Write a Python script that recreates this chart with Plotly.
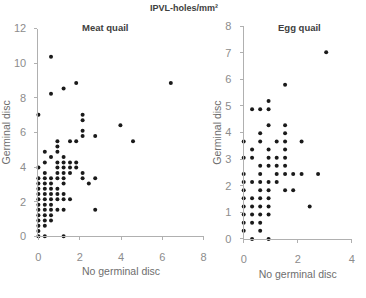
import plotly.graph_objects as go

# Meat quail: x = no germinal disc, y = germinal disc (IPVL holes/mm2)
meat_x = [0, 0.31, 1.22,
          0,
          0, 0.31,
          0, 0.31, 0.61,
          0, 0.31, 0.61,
          0, 0.31, 0.61, 0.92, 1.22, 2.75,
          0, 0.31, 0.61,
          0, 0.31, 0.61, 0.92, 1.22, 1.53,
          0, 0.31, 0.61, 0.92, 1.22,
          0, 0.31, 0.61, 0.92,
          0, 0.31, 0.61, 1.22, 2.44,
          0, 0.31, 0.61, 0.92, 1.22, 2.14, 2.75,
          0.31, 0.92, 1.22, 1.53, 2.14,
          0, 0.92, 1.22, 1.53, 1.83,
          0.31, 0.92, 1.22, 1.53, 1.83,
          0.61, 1.22,
          0.31, 0.92,
          0.92,
          0.92, 1.53, 1.83, 4.58,
          2.14, 2.75,
          2.14,
          3.97,
          2.14,
          0, 2.14,
          0.61,
          1.22,
          1.83, 6.41,
          0.61]
meat_y = [0, 0, 0,
          0.31,
          0.61, 0.61,
          0.92, 0.92, 0.92,
          1.22, 1.22, 1.22,
          1.53, 1.53, 1.53, 1.53, 1.53, 1.53,
          1.83, 1.83, 1.83,
          2.14, 2.14, 2.14, 2.14, 2.14, 2.14,
          2.44, 2.44, 2.44, 2.44, 2.44,
          2.75, 2.75, 2.75, 2.75,
          3.05, 3.05, 3.05, 3.05, 3.05,
          3.36, 3.36, 3.36, 3.36, 3.36, 3.36, 3.36,
          3.66, 3.66, 3.66, 3.66, 3.66,
          3.97, 3.97, 3.97, 3.97, 3.97,
          4.27, 4.27, 4.27, 4.27, 4.27,
          4.58, 4.58,
          4.88, 4.88,
          5.19,
          5.49, 5.49, 5.49, 5.49,
          5.8, 5.8,
          6.1,
          6.41,
          6.71,
          7.02, 7.02,
          8.24,
          8.54,
          8.85, 8.85,
          10.37]

# Egg quail
egg_x = [0.31, 0.92,
         0, 0.61,
         0, 0.31, 0.61,
         0, 0.31, 0.61, 0.92,
         0, 0.31, 0.61, 0.92, 2.44,
         0, 0.31, 0.61, 0.92,
         0, 0.61, 0.92, 1.53, 1.83,
         0, 0.31, 0.61, 0.92, 1.22,
         0, 0.61, 1.22, 1.53, 1.83, 2.14, 2.75,
         0.61, 0.92, 1.22, 1.53,
         0, 0.31, 0.92, 1.22, 1.53,
         0.31, 0.92, 1.53,
         0, 0.61, 1.22, 1.53, 2.14,
         0.61, 1.53,
         0.92, 1.53,
         0.31, 0.61, 0.92,
         0.92,
         1.53,
         3.05]
egg_y = [0, 0,
         0.31, 0.31,
         0.61, 0.61, 0.61,
         0.92, 0.92, 0.92, 0.92,
         1.22, 1.22, 1.22, 1.22, 1.22,
         1.53, 1.53, 1.53, 1.53,
         1.83, 1.83, 1.83, 1.83, 1.83,
         2.14, 2.14, 2.14, 2.14, 2.14,
         2.44, 2.44, 2.44, 2.44, 2.44, 2.44, 2.44,
         2.75, 2.75, 2.75, 2.75,
         3.05, 3.05, 3.05, 3.05, 3.05,
         3.36, 3.36, 3.36,
         3.66, 3.66, 3.66, 3.66, 3.66,
         3.97, 3.97,
         4.27, 4.27,
         4.88, 4.88, 4.88,
         5.19,
         5.8,
         7.02]

meat_xticks = [0, 2, 4, 6, 8]
meat_yticks = [0, 2, 4, 6, 8, 10, 12]
egg_xticks = [0, 2, 4]
egg_yticks = [0, 1, 2, 3, 4, 5, 6, 7, 8]

W, H = 366, 298
FONT = "Liberation Sans, Arial, sans-serif"
AX = "#b0b0b0"
LBL = "#8c8c8c"

fig = go.Figure()
mk = dict(size=4, color="#1a1a1a", line=dict(width=0))
fig.add_trace(go.Scatter(x=meat_x, y=meat_y, mode="markers", marker=mk,
                         xaxis="x", yaxis="y", cliponaxis=False, showlegend=False))
fig.add_trace(go.Scatter(x=egg_x, y=egg_y, mode="markers", marker=mk,
                         xaxis="x2", yaxis="y2", cliponaxis=False, showlegend=False))

def xa(domain, rng, ticks, anchor):
    return dict(domain=domain, range=rng, tickvals=ticks, showgrid=False, zeroline=False,
                showline=True, linecolor=AX, linewidth=1, ticks="outside", ticklen=3,
                tickcolor=AX, tickfont=dict(size=11, color=LBL, family=FONT),
                ticklabelstandoff=7,
                anchor=anchor, fixedrange=True,
                title=dict(text="No germinal disc", font=dict(size=10.5, color="#6e6e6e", family=FONT),
                           standoff=6))

def ya(domain, rng, ticks, anchor):
    return dict(domain=domain, range=rng, tickvals=ticks, showgrid=False, zeroline=False,
                showline=True, linecolor=AX, linewidth=1, ticks="outside", ticklen=3,
                tickcolor=AX, tickfont=dict(size=11, color=LBL, family=FONT),
                ticklabelstandoff=6,
                anchor=anchor, fixedrange=True,
                title=dict(text="Germinal disc", font=dict(size=10.5, color="#6e6e6e", family=FONT),
                           standoff=1))

fig.update_layout(
    width=W, height=H,
    margin=dict(l=0, r=0, t=0, b=0),
    paper_bgcolor="white", plot_bgcolor="white",
    xaxis=xa([36 / W, 204 / W], [0, 8], meat_xticks, "y"),
    yaxis=ya([1 - 240 / H, 1 - 23.5 / H], [0, 12], meat_yticks, "x"),
    xaxis2=xa([244.7 / W, 354.7 / W], [0, 4], egg_xticks, "y2"),
    yaxis2=ya([1 - 242.7 / H, 1 - 21 / H], [0, 8], egg_yticks, "x2"),
    annotations=[
        dict(text="<b>IPVL-holes/mm²</b>", x=184 / W, y=1 - 2 / H, xref="paper", yref="paper",
             yanchor="middle", xanchor="center",
             showarrow=False, font=dict(size=9, color="#404040", family=FONT)),
        dict(text="<b>Meat quail</b>", x=104 / W, y=1 - 22 / H, xref="paper", yref="paper",
             yanchor="middle", xanchor="center",
             showarrow=False, font=dict(size=9.5, color="#404040", family=FONT)),
        dict(text="<b>Egg quail</b>", x=301 / W, y=1 - 22 / H, xref="paper", yref="paper",
             yanchor="middle", xanchor="center",
             showarrow=False, font=dict(size=9.5, color="#404040", family=FONT)),
    ],
)

fig.write_html("out.html")
